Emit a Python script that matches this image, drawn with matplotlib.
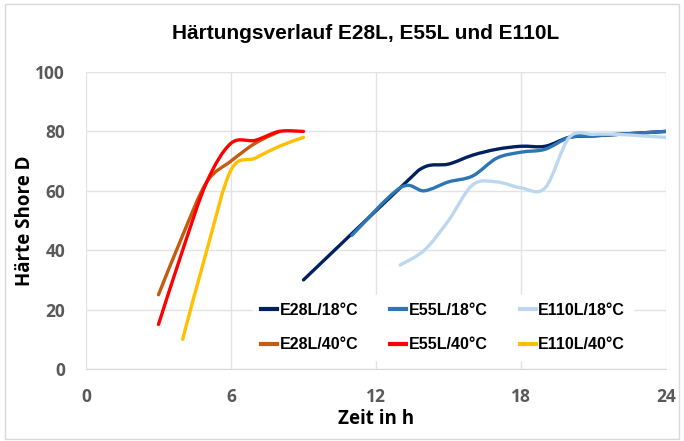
import numpy as np
import matplotlib
matplotlib.use("Agg")
import matplotlib.pyplot as plt
from matplotlib.path import Path
from matplotlib.patches import PathPatch, Rectangle
from matplotlib.lines import Line2D

t_e28_18 = [9, 13, 14, 15, 16, 17, 18, 19, 20, 21, 22, 23, 24]
h_e28_18 = [30, 61, 68, 69, 72, 74, 75, 75, 78, 78.5, 79, 79.5, 80]
t_e55_18 = [11, 13, 14, 15, 16, 17, 18, 19, 20, 21, 22, 23, 24]
h_e55_18 = [45, 61, 60, 63, 65, 71, 73, 74, 78, 78.5, 79, 79.5, 80]
t_e110_18 = [13, 14, 15, 16, 17, 18, 19, 20, 21, 22, 23, 24]
h_e110_18 = [35, 40, 50, 62, 63, 61, 61, 78, 79, 79, 78.5, 78]
t_e28_40 = [3, 4, 5, 6, 7, 8]
h_e28_40 = [25, 45, 63, 70, 76, 80]
t_e55_40 = [3, 4, 5, 6, 7, 8, 9]
h_e55_40 = [15, 40, 63, 76, 77, 80, 80]
t_e110_40 = [4, 5, 6, 7, 8, 9]
h_e110_40 = [10, 40, 67, 71, 75, 78]

x_ticks = [0, 6, 12, 18, 24]
y_ticks = [0, 20, 40, 60, 80, 100]
labels = ["E28L/18°C", "E55L/18°C", "E110L/18°C", "E28L/40°C", "E55L/40°C", "E110L/40°C"]
farben = ["#002060", "#2E75B6", "#BDD7EE", "#C55A11", "#FF0000", "#FFC000"]
serien = [(t_e28_18, h_e28_18), (t_e55_18, h_e55_18), (t_e110_18, h_e110_18),
          (t_e28_40, h_e28_40), (t_e55_40, h_e55_40), (t_e110_40, h_e110_40)]


def glatt_pfad(x, y):
    # geglaettete Linie wie in Excel (Bezier-Segmente, Catmull-Rom)
    p = np.column_stack([x, y]).astype(float)
    n = len(p)
    verts = [p[0]]
    codes = [Path.MOVETO]
    for i in range(n - 1):
        p0 = p[i - 1] if i > 0 else p[i]
        p1 = p[i]
        p2 = p[i + 1]
        p3 = p[i + 2] if i + 2 < n else p[i + 1]
        verts += [p1 + (p2 - p0) / 6, p2 - (p3 - p1) / 6, p2]
        codes += [Path.CURVE4] * 3
    return Path(verts, codes)


plt.rcParams['font.family'] = ['Liberation Sans', 'DejaVu Sans']
achsen_font = ['Open Sans', 'DejaVu Sans']
fig = plt.figure(figsize=(6.84, 4.41), dpi=100)
fig.patches.append(Rectangle((0.008, 0.005), 0.985, 0.985, transform=fig.transFigure,
                             fill=False, edgecolor="#D9D9D9", linewidth=1))
ax = fig.add_axes([0.1257, 0.1633, 0.848, 0.6734])

for (x, y), farbe in zip(serien, farben):
    ax.add_patch(PathPatch(glatt_pfad(x, y), fill=False, edgecolor=farbe,
                           linewidth=2.4, capstyle='round', joinstyle='round', zorder=3))

ax.set_xlim(0, 24)
ax.set_ylim(0, 100)
tick_stil = dict(fontweight="bold", family=achsen_font, fontsize=12.5, color="#595959")
ax.set_xticks(x_ticks, labels=[str(v) for v in x_ticks], **tick_stil)
ax.set_yticks(y_ticks, labels=[str(v) for v in y_ticks], **tick_stil)
ax.grid(True, color="#E3E3E3", linewidth=1)
ax.set_axisbelow(True)
for s in ["top", "right", "left"]:
    ax.spines[s].set_visible(False)
ax.spines["bottom"].set_color("#D9D9D9")
ax.tick_params(length=0)
ax.tick_params(axis="x", pad=14)
ax.tick_params(axis="y", pad=15)

ax.set_xlabel("Zeit in h", fontsize=13.5, fontweight="bold", family=achsen_font, labelpad=2)
ax.set_ylabel("Härte Shore D", fontsize=13.5, fontweight="bold", family=achsen_font, labelpad=0)
fig.text(0.535, 0.925, "Härtungsverlauf E28L, E55L und E110L", fontsize=15,
         fontweight="bold", ha="center", va="center")

# zeilenweise Reihenfolge in der Legende (matplotlib fuellt spaltenweise)
reihenfolge = [0, 3, 1, 4, 2, 5]
handles = [Line2D([], [], color=farben[i], linewidth=3) for i in reihenfolge]
leg = ax.legend(handles, [labels[i] for i in reihenfolge], ncol=3, loc="lower left",
                bbox_to_anchor=(0.275, 0.003),
                frameon=True, fancybox=False, edgecolor="white", framealpha=1,
                prop={'weight': 'bold', 'size': 11.5}, handlelength=1.0, handletextpad=0.15,
                columnspacing=2.0, labelspacing=1.2, borderpad=0.5)
leg.set_zorder(4)

fig.savefig("out.png", dpi=100)
